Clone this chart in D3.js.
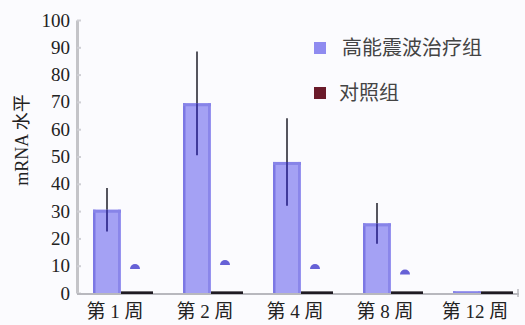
<!DOCTYPE html>
<html>
<head>
<meta charset="utf-8">
<script src="https://cdn.jsdelivr.net/npm/d3@7"></script>
<style>
  html, body { margin: 0; padding: 0; background: #fbfbfe; }
  svg { display: block; }
</style>
</head>
<body>
<svg id="chart" width="525" height="325"></svg>
<script>
// Weeks after treatment
const weeks = ["第 1 周", "第 2 周", "第 4 周", "第 8 周", "第 12 周"];
// Mean mRNA level, treatment group, and its error (±)
const treatValues = [30.5, 69.5, 48, 25.5, 0.6];
const treatErrors = [8, 19, 16, 7.5, 0];
// Mean mRNA level, control group
const controlValues = [9.5, 11, 9.5, 7.5, 0.5];
// Y axis ticks
const yTicks = [0, 10, 20, 30, 40, 50, 60, 70, 80, 90, 100];
// Legend entries
const seriesNames = ["高能震波治疗组", "对照组"];

const svg = d3.select("#chart");
const margin = { left: 77 };

const x = d3.scaleBand().domain(weeks).range([70, 520]).padding(0);
const sub = d3.scaleBand().domain(["t", "c"]).range([-22, 34]).padding(0);
const y = d3.scaleLinear().domain([0, 100]).range([293, 20]);

const center = d => x(d) + x.bandwidth() / 2;

// Y axis
const yAxis = d3.axisLeft(y).tickValues(yTicks).tickSize(0).tickPadding(7);
const gy = svg.append("g").attr("transform", `translate(${margin.left},0)`).call(yAxis);
gy.attr("font-family", "Liberation Serif, serif").attr("font-size", 19);
gy.select(".domain").attr("stroke", "#c4c4c8").attr("stroke-width", 3);
gy.selectAll("text").attr("fill", "#222");
// small tick marks on the right side of the axis line
gy.selectAll(".tick").append("line")
  .attr("x1", 0).attr("x2", 4).attr("stroke", "#cfcfd4").attr("stroke-width", 2);

// Y axis title
svg.append("text")
  .attr("transform", `translate(28,140) rotate(-90)`)
  .attr("text-anchor", "middle")
  .attr("font-family", "Liberation Serif, 'Noto Sans CJK SC', serif")
  .attr("font-size", 18)
  .attr("fill", "#222")
  .text("mRNA 水平");

// X axis baseline
svg.append("line")
  .attr("x1", margin.left).attr("x2", 519)
  .attr("y1", y(0) + 1).attr("y2", y(0) + 1)
  .attr("stroke", "#b8b8be").attr("stroke-width", 2);
svg.append("line")
  .attr("x1", 518).attr("x2", 518)
  .attr("y1", y(0) - 4).attr("y2", y(0) + 4)
  .attr("stroke", "#b8b8be").attr("stroke-width", 1.5);

// X labels
svg.append("g").selectAll("text").data(weeks).join("text")
  .attr("x", d => center(d))
  .attr("y", 318)
  .attr("text-anchor", "middle")
  .attr("font-family", "Liberation Serif, 'Noto Sans CJK SC', serif")
  .attr("font-size", 19)
  .attr("fill", "#222")
  .text(d => d);

// Treatment bars
const bars = svg.append("g");
weeks.forEach((w, i) => {
  const x0 = center(w) + sub("t");
  const bw = sub.bandwidth();
  const top = y(treatValues[i]);
  bars.append("rect")
    .attr("x", x0).attr("y", top)
    .attr("width", bw).attr("height", y(0) - top)
    .attr("fill", "#a4a1f4");
  // darker side edges
  bars.append("rect").attr("x", x0).attr("y", top).attr("width", 2.5)
    .attr("height", y(0) - top).attr("fill", "#7c78e4");
  bars.append("rect").attr("x", x0 + bw - 3).attr("y", top).attr("width", 2.5)
    .attr("height", y(0) - top).attr("fill", "#8a86ea");
  bars.append("rect").attr("x", x0).attr("y", top).attr("width", bw)
    .attr("height", Math.min(3, y(0) - top)).attr("fill", "#8784e8");
  // error bar
  if (treatErrors[i] > 0) {
    const cx = x0 + bw / 2;
    bars.append("line")
      .attr("x1", cx).attr("x2", cx)
      .attr("y1", y(treatValues[i] + treatErrors[i]))
      .attr("y2", top)
      .attr("stroke", "#55555e").attr("stroke-width", 2);
    bars.append("line")
      .attr("x1", cx).attr("x2", cx)
      .attr("y1", top)
      .attr("y2", y(treatValues[i] - treatErrors[i]))
      .attr("stroke", "#3f3a9a").attr("stroke-width", 2);
  }
});

// Control group: dark base strip and mean marker
const ctrl = svg.append("g");
weeks.forEach((w, i) => {
  const x0 = center(w) + sub("c");
  const bw = sub.bandwidth();
  ctrl.append("rect")
    .attr("x", x0).attr("y", y(0.6))
    .attr("width", bw + 4).attr("height", y(0) - y(0.6) + 1)
    .attr("fill", "#1e1a22");
  if (controlValues[i] > 1) {
    const cx = x0 + bw / 2, cy = y(controlValues[i]);
    ctrl.append("path")
      .attr("d", `M${cx - 5},${cy + 2} A5,5 0 0 1 ${cx + 5},${cy + 2} Z`)
      .attr("fill", "#6661d6");
  }
});

// Legend
const legendColors = ["#8f8bf0", "#6a1a2a"];
const legend = svg.append("g");
seriesNames.forEach((name, i) => {
  const ly = 48 + i * 45;
  legend.append("rect")
    .attr("x", 314).attr("y", ly - 6)
    .attr("width", 12).attr("height", 12)
    .attr("fill", legendColors[i]);
  legend.append("text")
    .attr("x", i === 0 ? 342 : 339).attr("y", ly + 7)
    .attr("font-family", "'Noto Sans CJK SC', sans-serif")
    .attr("font-size", 20)
    .attr("fill", "#444")
    .text(name);
});
</script>
</body>
</html>
